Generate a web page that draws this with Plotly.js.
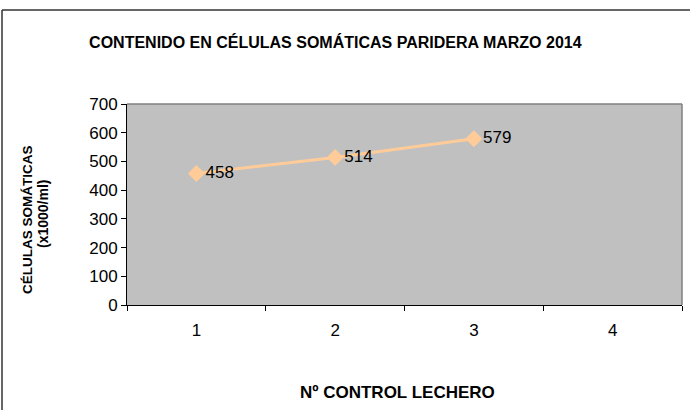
<!DOCTYPE html>
<html>
<head>
<meta charset="utf-8">
<script src="https://cdn.plot.ly/plotly-3.0.1.min.js"></script>
<style>
  body { margin: 0; background: #fff; }
  #chart { width: 690px; height: 410px; }
</style>
</head>
<body>
<div id="chart"></div>
<script>
// Nº control lechero vs células somáticas (x1000/ml)
var controles = ['1', '2', '3', '4'];
var celulas = [458, 514, 579, null];
var yTicks = [0, 100, 200, 300, 400, 500, 600, 700];

var traceCelulas = {
  x: controles,
  y: celulas,
  type: 'scatter',
  mode: 'lines+markers+text',
  text: celulas.map(function(v) { return v === null ? '' : String(v); }),
  textposition: 'middle right',
  textfont: { family: 'Arial, Liberation Sans', size: 17, color: '#000' },
  line: { color: '#FFCC99', width: 3 },
  marker: { symbol: 'diamond', size: 13, color: '#FFCC99' },
  cliponaxis: false,
  hoverinfo: 'x+y'
};

// plot area in pixels: x 127..682, y 104..305
var pw = 555, ph = 201;

var layout = {
  width: 690,
  height: 410,
  margin: { l: 127, r: 8, t: 104, b: 105 },
  paper_bgcolor: '#fff',
  plot_bgcolor: '#C0C0C0',
  font: { family: 'Arial, Liberation Sans', size: 17, color: '#000' },
  showlegend: false,
  title: {
    text: '<b>CONTENIDO EN CÉLULAS SOMÁTICAS PARIDERA MARZO 2014</b>',
    font: { size: 16 },
    x: 0.486, xref: 'container',
    y: 0.897, yref: 'container', yanchor: 'middle'
  },
  xaxis: {
    type: 'category',
    range: [-0.5, 3.5],
    tickson: 'boundaries',
    ticks: 'outside',
    ticklen: 5,
    tickcolor: '#000',
    ticklabelstandoff: 10,
    showline: true,
    linecolor: '#000',
    linewidth: 1,
    showgrid: false,
    zeroline: false,
    tickfont: { size: 17 }
  },
  yaxis: {
    range: [0, 700],
    tickvals: yTicks,
    ticks: 'outside',
    ticklen: 5,
    tickcolor: '#000',
    showline: true,
    linecolor: '#000',
    linewidth: 1,
    showgrid: false,
    zeroline: false,
    tickfont: { size: 17 }
  },
  annotations: [
    { text: '<b>Nº CONTROL LECHERO</b>', xref: 'paper', yref: 'paper',
      x: (397 - 127) / pw, y: -(392 - 305) / ph, showarrow: false,
      xanchor: 'center', yanchor: 'middle', font: { size: 17 } },
    { text: '<b>CÉLULAS SOMÁTICAS</b>', xref: 'paper', yref: 'paper',
      x: (27 - 127) / pw, y: (305 - 220) / ph, showarrow: false, textangle: -90,
      xanchor: 'center', yanchor: 'middle', font: { size: 13.5 } },
    { text: '<b>(x1000/ml)</b>', xref: 'paper', yref: 'paper',
      x: (43 - 127) / pw, y: (305 - 214) / ph, showarrow: false, textangle: -90,
      xanchor: 'center', yanchor: 'middle', font: { size: 14 } }
  ],
  shapes: [
    // gray border on top and right of plot area
    { type: 'line', xref: 'paper', yref: 'paper', x0: 0, x1: 1, y0: 1, y1: 1,
      line: { color: '#808080', width: 1.5 } },
    { type: 'line', xref: 'paper', yref: 'paper', x0: 1, x1: 1, y0: 0, y1: 1,
      line: { color: '#808080', width: 1.5 } },
    // outer chart frame (left and top visible)
    { type: 'line', xref: 'paper', yref: 'paper',
      x0: -125 / pw, x1: -125 / pw, y0: -110 / ph, y1: 1 + 94 / ph,
      line: { color: '#333', width: 1.5 } },
    { type: 'line', xref: 'paper', yref: 'paper',
      x0: -125 / pw, x1: 10 / pw + 1, y0: 1 + 94 / ph, y1: 1 + 94 / ph,
      line: { color: '#333', width: 1.5 } }
  ]
};

Plotly.newPlot('chart', [traceCelulas], layout, { displayModeBar: false, staticPlot: true });
</script>
</body>
</html>
